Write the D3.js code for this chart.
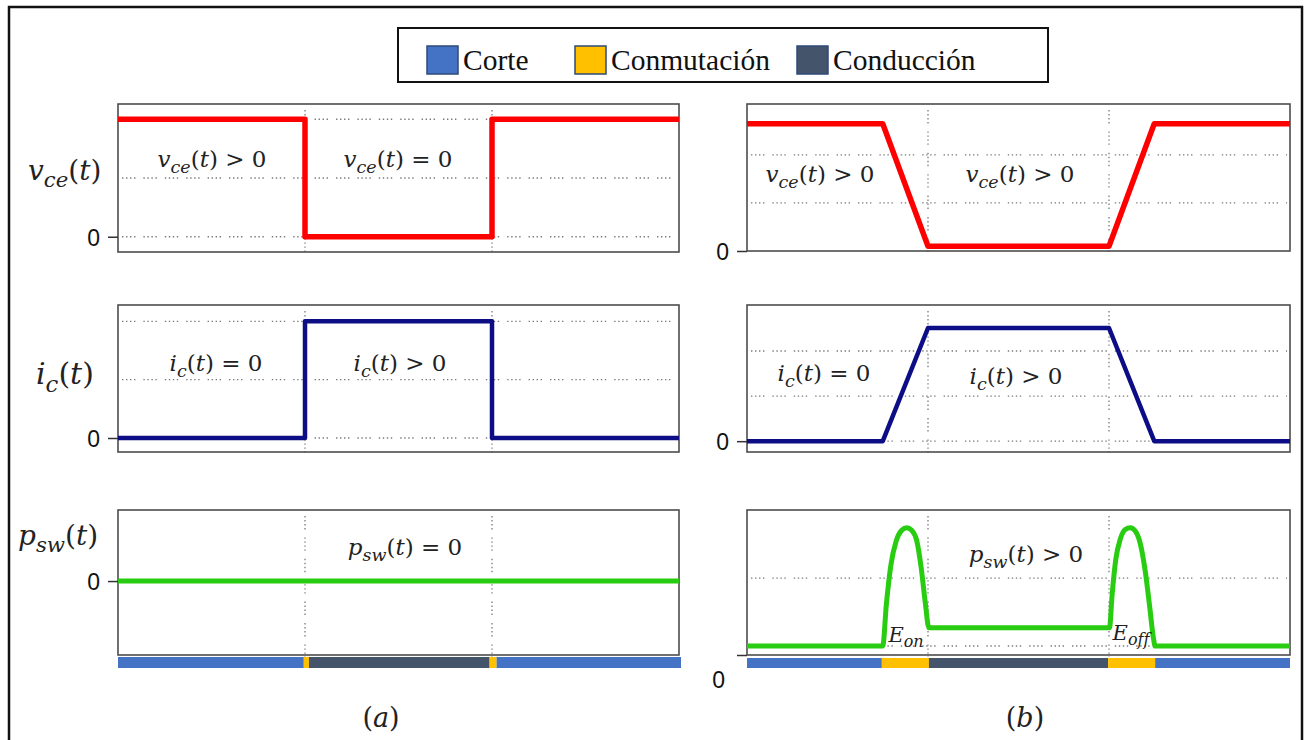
<!DOCTYPE html>
<html>
<head>
<meta charset="utf-8">
<script src="https://cdn.jsdelivr.net/npm/d3@7"></script>
<style>
  body { margin: 0; background: #fff; }
  svg { display: block; }
</style>
</head>
<body>
<svg id="chart" width="1304" height="740"></svg>
<script>
// ---- data: one switching period, time in 12 units ----
const legendLabels = ["Corte", "Conmutación", "Conducción"];
const stateColors = ["#4472C4", "#FFC000", "#44546A"];

// (a) ideal switch
const idealVce = [[0, 1], [4, 1], [4, 0], [8, 0], [8, 1], [12, 1]];
const idealIc = [[0, 0], [4, 0], [4, 1], [8, 1], [8, 0], [12, 0]];
const idealPsw = [[0, 0], [12, 0]];
const idealStates = [[0, 3.96, 0], [3.96, 4.07, 1], [4.07, 7.92, 2], [7.92, 8.07, 1], [8.07, 12, 0]];
const idealGrid = [0, 0.5, 1];
const idealEdges = [4, 8];

// (b) real switch
const realVce = [[0, 2.65], [3, 2.65], [4, 0.1], [8, 0.1], [9, 2.65], [12, 2.65]];
const realIc = [[0, 0], [3, 0], [4, 2.51], [8, 2.51], [9, 0], [12, 0]];
const realPsw = [
  [0, 0.62], [3.0, 0.62], [3.08, 3.5], [3.18, 6.2], [3.3, 7.9], [3.42, 8.6], [3.53, 8.78],
  [3.64, 8.6], [3.75, 7.9], [3.85, 6.0], [3.94, 3.6], [4.02, 1.88],
  [8.01, 1.88], [8.07, 4.2], [8.15, 6.6], [8.25, 8.0], [8.36, 8.65], [8.47, 8.78],
  [8.58, 8.55], [8.69, 7.7], [8.8, 5.8], [8.9, 3.3], [8.98, 1.2], [9.02, 0.62], [12, 0.62]
];
const realStates = [[0, 2.98, 0], [2.98, 4.02, 1], [4.02, 7.98, 2], [7.98, 9.02, 1], [9.02, 12, 0]];
const realVceGrid = [1, 2];
const realIcGrid = [0, 1, 2];
const realPswGrid = [0.62, 5.3];
const realEdges = [4, 8];

// ---- layout ----
const svg = d3.select("#chart");
const mathFont = "'DejaVu Serif', serif";
const RED = "#ff0000", BLUE = "#0d0d86", GREEN = "#28cc10";

// outer frame
svg.append("rect").attr("x", 9).attr("y", 7).attr("width", 1293).attr("height", 760)
  .attr("fill", "none").attr("stroke", "#111").attr("stroke-width", 2.5);

// legend
const lg = svg.append("g");
lg.append("rect").attr("x", 398).attr("y", 28).attr("width", 650).attr("height", 54)
  .attr("fill", "#fff").attr("stroke", "#111").attr("stroke-width", 2);
const legendX = [427, 575, 797];
legendLabels.forEach((lab, i) => {
  lg.append("rect").attr("x", legendX[i]).attr("y", 46).attr("width", 31).attr("height", 28)
    .attr("fill", stateColors[i]).attr("stroke", "#2f4a78").attr("stroke-width", 1.5);
  lg.append("text").attr("x", legendX[i] + 36).attr("y", 70)
    .attr("font-family", "'Liberation Serif', 'Times New Roman', serif")
    .attr("font-size", 29.5).attr("fill", "#111").text(lab);
});

// math label: letters italic, digits/operators upright, _{..} subscript
function mathText(g, x, y, src, size, anchor) {
  const t = g.append("text").attr("x", x).attr("y", y)
    .attr("font-family", mathFont).attr("font-size", size)
    .attr("text-anchor", anchor || "middle").attr("fill", "#222")
    .style("font-variant-ligatures", "none");
  const runs = [];
  let i = 0;
  while (i < src.length) {
    if (src[i] === "_" && src[i + 1] === "{") {
      const end = src.indexOf("}", i);
      runs.push({ s: src.slice(i + 2, end), it: true, sub: true });
      i = end + 1;
      continue;
    }
    const it = /[A-Za-z]/.test(src[i]);
    const last = runs[runs.length - 1];
    if (last && !last.sub && last.it === it) last.s += src[i];
    else runs.push({ s: src[i], it: it, sub: false });
    i++;
  }
  let shifted = false;
  runs.forEach(r => {
    const sp = t.append("tspan").text(r.s);
    if (r.it) sp.attr("font-style", "italic");
    if (r.sub) {
      sp.attr("font-size", size * 0.76).attr("dy", size * 0.26);
      shifted = true;
    } else if (shifted) {
      sp.attr("dy", -size * 0.26);
      shifted = false;
    }
  });
  return t;
}

function dotted(sel) {
  return sel.attr("stroke", "#7a7a7a").attr("stroke-width", 1.3)
    .attr("stroke-dasharray", "1.4 2.6 1.4 2.6 1.4 2.6 1.4 8");
}

function panel(cfg) {
  const g = svg.append("g");
  const x = d3.scaleLinear().domain([0, 12]).range(cfg.xr);
  const y = d3.scaleLinear().domain(cfg.yd).range(cfg.yr);

  // horizontal grid
  g.selectAll("line.hg").data(cfg.grid || []).join("line").attr("class", "hg")
    .attr("x1", cfg.xr[0] + 4).attr("x2", cfg.xr[1] - 3)
    .attr("y1", d => y(d)).attr("y2", d => y(d)).call(dotted);
  // vertical grid at switching edges
  g.selectAll("line.vg").data(cfg.edges || []).join("line").attr("class", "vg")
    .attr("x1", d => x(d)).attr("x2", d => x(d))
    .attr("y1", cfg.yr[1] + 6).attr("y2", cfg.yr[0] + 2).call(dotted);

  // frame
  g.append("rect").attr("x", cfg.xr[0]).attr("y", cfg.yr[1])
    .attr("width", cfg.xr[1] - cfg.xr[0]).attr("height", cfg.yr[0] - cfg.yr[1])
    .attr("fill", "none").attr("stroke", "#4d4d4d").attr("stroke-width", 1.6);

  // waveform
  const line = d3.line().x(d => x(d[0])).y(d => y(d[1])).curve(cfg.curve || d3.curveLinear);
  g.append("path").datum(cfg.data).attr("d", line)
    .attr("fill", "none").attr("stroke", cfg.color).attr("stroke-width", cfg.width || 5)
    .attr("stroke-linejoin", "round").attr("stroke-linecap", "butt");

  // zero tick
  const ax = g.append("g").attr("transform", `translate(${cfg.xr[0]},0)`)
    .call(d3.axisLeft(y).tickValues([0]).tickSize(10).tickSizeOuter(0).tickFormat(d3.format("d")));
  ax.select(".domain").remove();
  ax.selectAll(".tick line").attr("stroke", "#333").attr("stroke-width", 1.5);
  ax.selectAll(".tick text")
    .attr("font-family", "'Liberation Sans', Arial, sans-serif").attr("font-size", 23)
    .attr("fill", "#111").attr("x", -18).attr("dy", "0.36em");
  if (cfg.zeroShift) ax.selectAll(".tick text").attr("x", cfg.zeroShift[0]).attr("dy", cfg.zeroShift[1]);

  // annotations
  (cfg.notes || []).forEach(n => mathText(g, n[0], n[1], n[2], n[3] || 23));
  return { g, x, y };
}

function stateBar(states, xr, y0, h) {
  const x = d3.scaleLinear().domain([0, 12]).range(xr);
  svg.append("g").selectAll("rect").data(states).join("rect")
    .attr("x", d => x(d[0])).attr("width", d => x(d[1]) - x(d[0]))
    .attr("y", y0).attr("height", h).attr("fill", d => stateColors[d[2]]);
}

const colA = [118, 679], colB = [747, 1290];

// (a) ideal
panel({ xr: colA, yr: [252, 104], yd: [-0.13, 1.13], data: idealVce, color: RED, width: 5.5, grid: idealGrid, edges: idealEdges,
  notes: [[212, 167, "v_{ce}(t) > 0"], [398, 167, "v_{ce}(t) = 0"]] });
panel({ xr: colA, yr: [452, 305], yd: [-0.12, 1.14], data: idealIc, color: BLUE, width: 4.5, grid: idealGrid, edges: idealEdges,
  notes: [[216, 371, "i_{c}(t) = 0"], [400, 371, "i_{c}(t) > 0"]] });
panel({ xr: colA, yr: [655, 510], yd: [-1.02, 0.98], data: idealPsw, color: GREEN, edges: idealEdges,
  notes: [[405, 555, "p_{sw}(t) = 0"]] });
stateBar(idealStates, [118, 681], 657, 11);

// (b) real
panel({ xr: colB, yr: [251, 104], yd: [0, 3.06], data: realVce, color: RED, width: 5.5, grid: realVceGrid, edges: realEdges,
  notes: [[820, 182, "v_{ce}(t) > 0"], [1020, 182, "v_{ce}(t) > 0"]] });
panel({ xr: colB, yr: [452, 305], yd: [-0.24, 3.02], data: realIc, color: BLUE, width: 4.5, grid: realIcGrid, edges: realEdges,
  notes: [[824, 381, "i_{c}(t) = 0"], [1016, 384, "i_{c}(t) > 0"]] });
panel({ xr: colB, yr: [655, 510], yd: [0, 10], data: realPsw, color: GREEN, grid: realPswGrid, edges: realEdges,
  curve: d3.curveMonotoneX, zeroShift: [-22, "1.4em"],
  notes: [[1026, 562, "p_{sw}(t) > 0"], [906, 642, "E_{on}", 21], [1131, 640, "E_{off}", 21]] });
stateBar(realStates, colB, 658, 10);

// axis titles
mathText(svg, 28, 180, "v_{ce}(t)", 28, "start");
mathText(svg, 36, 384, "i_{c}(t)", 30, "start");
mathText(svg, 18, 545, "p_{sw}(t)", 28, "start");

// sub-figure captions
mathText(svg, 381, 727, "(a)", 27);
mathText(svg, 1025, 727, "(b)", 27);
</script>
</body>
</html>
